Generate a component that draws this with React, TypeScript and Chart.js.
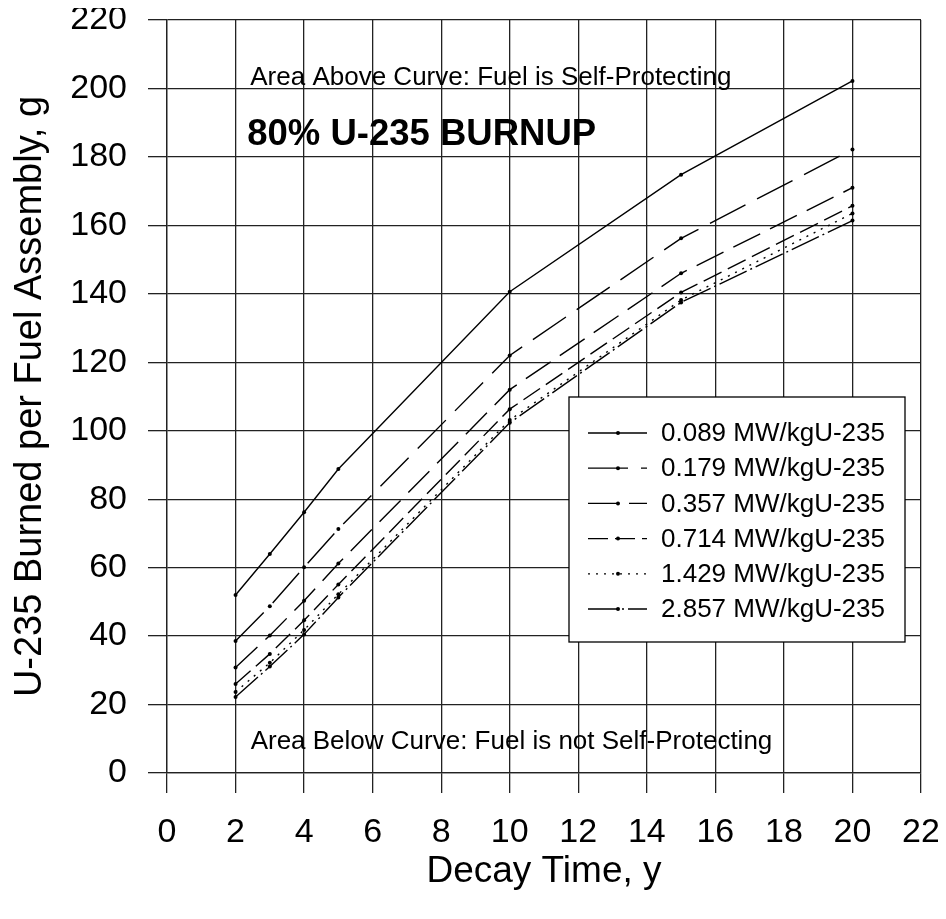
import { useEffect, useRef } from "react";
import { Chart, registerables } from "chart.js";

Chart.register(...registerables);

const FONT = '"Liberation Sans", Arial, Helvetica, sans-serif';

const decayYears = [2, 3, 4, 5, 10, 15, 20];
const seriesLabels = [
  "0.089 MW/kgU-235",
  "0.179 MW/kgU-235",
  "0.357 MW/kgU-235",
  "0.714 MW/kgU-235",
  "1.429 MW/kgU-235",
  "2.857 MW/kgU-235",
];
const s0089 = [52, 64, 76.2, 88.8, 140.6, 174.8, 202.2];
const s0179 = [38.6, 48.7, 60.1, 71.3, 122, 156.2, 182.2];
const s0357 = [30.8, 40.2, 50.3, 61.2, 112, 146, 171];
const s0714 = [26, 34.8, 44.6, 55.1, 106.3, 140.4, 165.7];
const s1429 = [23.7, 32.2, 41.8, 52.2, 103.1, 138.2, 163.5];
const s2857 = [22.2, 31.1, 40.5, 51.3, 102.3, 137.5, 161.4];
const seriesValues = [s0089, s0179, s0357, s0714, s1429, s2857];
const seriesDashes = [[], [40, 13], [30, 11], [20, 7], [2, 6], [30, 4, 2, 4]];

const xMin = 0, xMax = 22, xStep = 2;
const yMin = 0, yMax = 220, yStep = 20;

const xTitle = "Decay Time, y";
const yTitle = "U-235 Burned per Fuel Assembly, g";
const noteAbove = "Area Above Curve: Fuel is Self-Protecting";
const noteBelow = "Area Below Curve: Fuel is not Self-Protecting";
const burnupTitle = "80% U-235 BURNUP";

const notesPlugin = {
  id: "notes",
  afterDatasetsDraw(chart: any) {
    const { ctx } = chart;
    const x = chart.scales.x;
    const y = chart.scales.y;
    ctx.save();
    ctx.fillStyle = "#000";
    ctx.textAlign = "left";
    ctx.textBaseline = "alphabetic";
    ctx.font = `26px ${FONT}`;
    ctx.fillText(noteAbove, x.getPixelForValue(2.43), y.getPixelForValue(201));
    ctx.font = `bold 36.5px ${FONT}`;
    ctx.fillText(burnupTitle, x.getPixelForValue(2.34), y.getPixelForValue(183.5));
    ctx.font = `26px ${FONT}`;
    ctx.fillText(noteBelow, x.getPixelForValue(2.44), y.getPixelForValue(7));
    ctx.restore();
  },
};

const legendPlugin = {
  id: "boxLegend",
  afterDraw(chart: any) {
    const { ctx, chartArea } = chart;
    const left = chartArea.right - 352;
    const top = chartArea.bottom - 376;
    const w = 336;
    const h = 245;
    ctx.save();
    ctx.fillStyle = "#fff";
    ctx.fillRect(left, top, w, h);
    ctx.strokeStyle = "#000";
    ctx.lineWidth = 1.3;
    ctx.setLineDash([]);
    ctx.strokeRect(left, top, w, h);
    chart.data.datasets.forEach((ds: any, i: number) => {
      const cy = top + 36 + i * 35.2;
      ctx.strokeStyle = "#000";
      ctx.lineWidth = 1.3;
      ctx.setLineDash(ds.borderDash || []);
      ctx.beginPath();
      ctx.moveTo(left + 19, cy);
      ctx.lineTo(left + 78, cy);
      ctx.stroke();
      ctx.setLineDash([]);
      ctx.fillStyle = "#000";
      ctx.beginPath();
      ctx.arc(left + 49, cy, 2, 0, Math.PI * 2);
      ctx.fill();
      ctx.font = `26px ${FONT}`;
      ctx.textAlign = "left";
      ctx.textBaseline = "middle";
      ctx.fillText(ds.label, left + 92, cy + 1);
    });
    ctx.restore();
  },
};

export default function App() {
  const ref = useRef<HTMLCanvasElement | null>(null);

  useEffect(() => {
    if (!ref.current) return;
    const datasets = seriesValues.map((vals, i) => ({
      label: seriesLabels[i],
      data: vals.map((v, j) => ({ x: decayYears[j], y: v })),
      borderColor: "#000",
      backgroundColor: "#000",
      borderWidth: 1.4,
      borderDash: seriesDashes[i],
      pointRadius: 2,
      pointBorderWidth: 0,
      pointBackgroundColor: "#000",
      fill: false,
      tension: 0,
    }));
    const chart = new Chart(ref.current, {
      type: "line",
      data: { datasets },
      options: {
        animation: false,
        responsive: true,
        maintainAspectRatio: false,
        devicePixelRatio: 1,
        layout: { padding: { top: 12, right: 17, left: 0, bottom: 0 } },
        plugins: {
          legend: { display: false },
          tooltip: { enabled: false },
        },
        scales: {
          x: {
            type: "linear",
            min: xMin,
            max: xMax,
            ticks: {
              stepSize: xStep,
              color: "#000",
              font: { family: FONT, size: 34 },
              padding: 19,
              maxRotation: 0,
            },
            grid: { color: "#222", lineWidth: 1.3, tickLength: 20, drawTicks: true },
            border: { display: true, color: "#222", width: 1.3 },
            title: {
              display: true,
              text: xTitle,
              color: "#000",
              font: { family: FONT, size: 37 },
              padding: { top: 0, bottom: 17 },
            },
            afterFit(scale: any) {
              scale.height = 138;
              scale.paddingLeft = 0;
              scale.paddingRight = 0;
            },
          },
          y: {
            type: "linear",
            min: yMin,
            max: yMax,
            ticks: {
              stepSize: yStep,
              color: "#000",
              font: { family: FONT, size: 34 },
              padding: 21,
            },
            grid: { color: "#222", lineWidth: 1.3, tickLength: 19, drawTicks: true },
            border: { display: true, color: "#222", width: 1.3 },
            title: {
              display: true,
              text: yTitle,
              color: "#000",
              font: { family: FONT, size: 38 },
              padding: { top: 0, bottom: 0 },
            },
            afterFit(scale: any) {
              scale.width = 159;
              scale.paddingTop = 0;
              scale.paddingBottom = 0;
            },
          },
        },
      },
      plugins: [notesPlugin, legendPlugin],
    });
    return () => chart.destroy();
  }, []);

  return (
    <div style={{ width: 930, height: 903, position: "relative" }}>
      <canvas ref={ref} style={{ display: "block" }} />
    </div>
  );
}
